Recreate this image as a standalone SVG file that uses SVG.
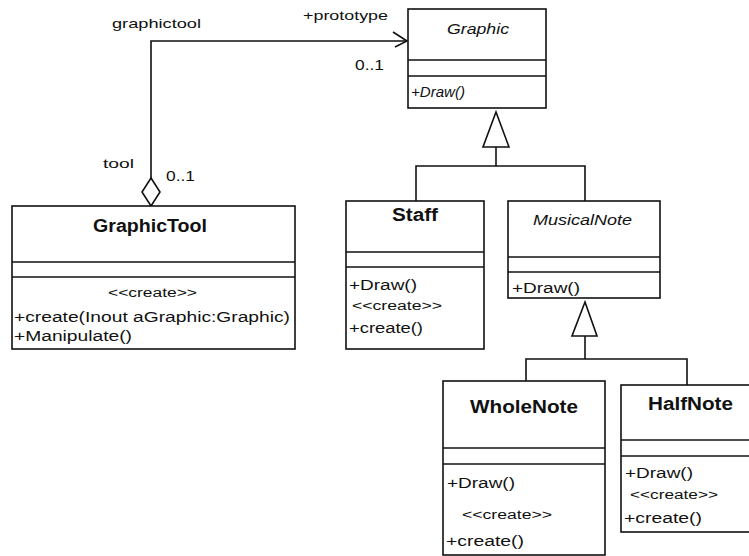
<svg xmlns="http://www.w3.org/2000/svg" width="749" height="556" viewBox="0 0 749 556">
  <style>
    .box { fill: #ffffff; stroke: #111111; stroke-width: 1.6; }
    .sep { stroke: #111111; stroke-width: 1.6; }
    .edge { fill: none; stroke: #111111; stroke-width: 1.6; }
    .head { fill: #ffffff; stroke: #111111; stroke-width: 1.6; }
    text { font-family: "Liberation Sans", Arial, sans-serif; fill: #111111; }
    .name { font-size: 18px; font-weight: bold; }
    .abstract { font-size: 14px; font-style: italic; }
    .member { font-size: 14px; }
    .stereo { font-size: 12px; }
    .role { font-size: 13px; }
    .mult { font-size: 14px; }
  </style>
  <rect width="749" height="556" fill="#ffffff"/>

  <!-- connectors -->
  <g id="connectors">
    <!-- association GraphicTool -> Graphic -->
    <polyline class="edge" points="151,178 151,41 407,41"/>
    <polyline class="edge" points="393,32 407,41 395,47"/>
    <polygon class="head" points="151,178 160,192 151,206 142,192"/>
    <text class="role" x="112" y="28" textLength="89" lengthAdjust="spacingAndGlyphs">graphictool</text>
    <text class="role" x="303" y="20" textLength="85" lengthAdjust="spacingAndGlyphs">+prototype</text>
    <text class="mult" x="355" y="70" textLength="29" lengthAdjust="spacingAndGlyphs">0..1</text>
    <text class="role" x="103" y="168" textLength="31" lengthAdjust="spacingAndGlyphs">tool</text>
    <text class="mult" x="166" y="181" textLength="29" lengthAdjust="spacingAndGlyphs">0..1</text>

    <!-- generalization Staff, MusicalNote -> Graphic -->
    <polyline class="edge" points="416,201 416,166 585,166 585,201"/>
    <line class="edge" x1="496" y1="147" x2="496" y2="166"/>
    <polygon class="head" points="496,112 509,147 483,147"/>

    <!-- generalization WholeNote, HalfNote -> MusicalNote -->
    <polyline class="edge" points="526,381 526,359 687,359 687,385"/>
    <line class="edge" x1="585" y1="336" x2="585" y2="359"/>
    <polygon class="head" points="585,302 597,336 572,336"/>
  </g>

  <!-- Graphic -->
  <g id="graphic">
    <rect class="box" x="408" y="9" width="138" height="99"/>
    <line class="sep" x1="408" y1="60" x2="546" y2="60"/>
    <line class="sep" x1="408" y1="76" x2="546" y2="76"/>
    <text class="abstract" x="447" y="34" textLength="62" lengthAdjust="spacingAndGlyphs">Graphic</text>
    <text class="abstract" x="411" y="97" textLength="54" lengthAdjust="spacingAndGlyphs">+Draw()</text>
  </g>

  <!-- GraphicTool -->
  <g id="graphictool">
    <rect class="box" x="12" y="206" width="283" height="143"/>
    <line class="sep" x1="12" y1="262" x2="295" y2="262"/>
    <line class="sep" x1="12" y1="277" x2="295" y2="277"/>
    <text class="name" x="93" y="232" textLength="114" lengthAdjust="spacingAndGlyphs">GraphicTool</text>
    <text class="stereo" x="108" y="297" textLength="89" lengthAdjust="spacingAndGlyphs">&lt;&lt;create&gt;&gt;</text>
    <text class="member" x="14" y="322" textLength="276" lengthAdjust="spacingAndGlyphs">+create(Inout aGraphic:Graphic)</text>
    <text class="member" x="14" y="341" textLength="118" lengthAdjust="spacingAndGlyphs">+Manipulate()</text>
  </g>

  <!-- Staff -->
  <g id="staff">
    <rect class="box" x="346" y="201" width="138" height="148"/>
    <line class="sep" x1="346" y1="252" x2="484" y2="252"/>
    <line class="sep" x1="346" y1="267" x2="484" y2="267"/>
    <text class="name" x="392" y="221" textLength="46" lengthAdjust="spacingAndGlyphs">Staff</text>
    <text class="member" x="349" y="290" textLength="68" lengthAdjust="spacingAndGlyphs">+Draw()</text>
    <text class="stereo" x="352" y="310" textLength="90" lengthAdjust="spacingAndGlyphs">&lt;&lt;create&gt;&gt;</text>
    <text class="member" x="349" y="333" textLength="74" lengthAdjust="spacingAndGlyphs">+create()</text>
  </g>

  <!-- MusicalNote -->
  <g id="musicalnote">
    <rect class="box" x="508" y="201" width="152" height="97"/>
    <line class="sep" x1="508" y1="257" x2="660" y2="257"/>
    <line class="sep" x1="508" y1="272" x2="660" y2="272"/>
    <text class="abstract" x="533" y="225" textLength="99" lengthAdjust="spacingAndGlyphs">MusicalNote</text>
    <text class="member" x="512" y="293" textLength="68" lengthAdjust="spacingAndGlyphs">+Draw()</text>
  </g>

  <!-- WholeNote -->
  <g id="wholenote">
    <rect class="box" x="443" y="381" width="162" height="174"/>
    <line class="sep" x1="443" y1="448" x2="605" y2="448"/>
    <line class="sep" x1="443" y1="464" x2="605" y2="464"/>
    <text class="name" x="470" y="413" textLength="108" lengthAdjust="spacingAndGlyphs">WholeNote</text>
    <text class="member" x="447" y="488" textLength="68" lengthAdjust="spacingAndGlyphs">+Draw()</text>
    <text class="stereo" x="462" y="519" textLength="90" lengthAdjust="spacingAndGlyphs">&lt;&lt;create&gt;&gt;</text>
    <text class="member" x="446" y="546" textLength="78" lengthAdjust="spacingAndGlyphs">+create()</text>
  </g>

  <!-- HalfNote -->
  <g id="halfnote">
    <rect class="box" x="621" y="385" width="134" height="147"/>
    <line class="sep" x1="621" y1="440" x2="755" y2="440"/>
    <line class="sep" x1="621" y1="456" x2="755" y2="456"/>
    <text class="name" x="648" y="410" textLength="85" lengthAdjust="spacingAndGlyphs">HalfNote</text>
    <text class="member" x="625" y="478" textLength="68" lengthAdjust="spacingAndGlyphs">+Draw()</text>
    <text class="stereo" x="630" y="499" textLength="88" lengthAdjust="spacingAndGlyphs">&lt;&lt;create&gt;&gt;</text>
    <text class="member" x="624" y="523" textLength="78" lengthAdjust="spacingAndGlyphs">+create()</text>
  </g>
</svg>
